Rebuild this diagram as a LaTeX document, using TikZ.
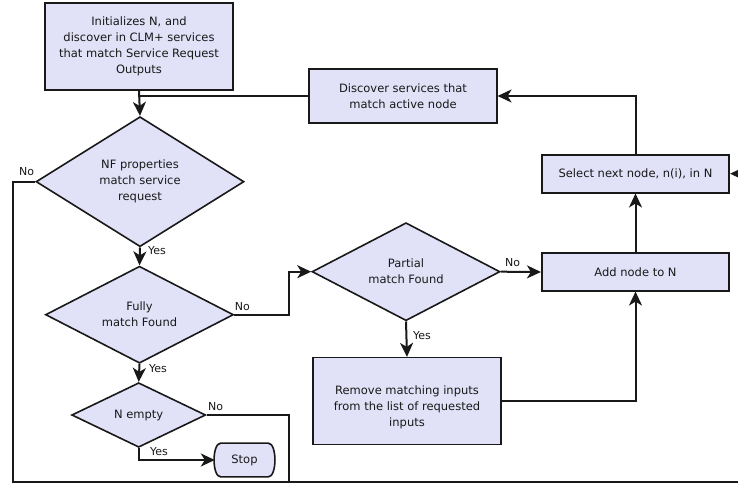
\documentclass[tikz,border=0pt]{standalone}
\usepackage{fontspec}
\setmainfont{DejaVu Sans}
\usetikzlibrary{shapes.geometric,arrows.meta,backgrounds}
\definecolor{lav}{RGB}{225,225,247}
\definecolor{ink}{RGB}{25,25,25}
\begin{document}
\begin{tikzpicture}[x=1pt,y=-1pt,
  boxline/.style={draw=ink,line width=1.6pt},
  box/.style={boxline,fill=lav,rectangle,inner sep=0pt,align=center,
    font=\fontsize{11.5}{16}\selectfont,text=ink},
  dec/.style={boxline,fill=lav,diamond,inner sep=0pt,shape aspect=2,align=center,
    font=\fontsize{11.5}{16}\selectfont,text=ink},
  txt/.style={inner sep=0pt,align=center,font=\fontsize{11.5}{16}\selectfont,text=ink},
  conn/.style={draw=ink,line width=2pt},
  arr/.style={conn,-{Stealth[length=14pt,width=13pt,inset=4pt]}},
  lbl/.style={inner sep=0pt,font=\fontsize{11}{13}\selectfont,text=ink}]
\clip (0,0) rectangle (738,484);
\useasboundingbox (0,0) rectangle (738,484);

% nodes
\node[box,minimum width=188,minimum height=87] (init) at (139,46.5)
  {Initializes N, and\\discover in CLM+ services\\that match Service Request\\Outputs};
\node[box,minimum width=187.5,minimum height=54] (discover) at (403,96)
  {Discover services that\\match active node};
\node[box,minimum width=187.5,minimum height=38] (select) at (635.5,173.7)
  {Select next node, n(i), in N};
\node[box,minimum width=187.5,minimum height=37.5] (add) at (635.5,272)
  {Add node to N};
\node[dec,shape aspect=1.6,minimum width=208,minimum height=130] (nf) at (140,181.7)
  {NF properties\\match service\\request};
\node[dec,minimum width=188,minimum height=97] (fully) at (139.5,314.7)
  {Fully\\match Found};
\node[dec,minimum width=188,minimum height=98] (partial) at (406,271.7)
  {Partial\\match Found};
\node[box,minimum width=187.7,minimum height=86.7] (remove) at (407,401) {};
\node[txt] (removetxt) at (407,407.5)
  {Remove matching inputs\\from the list of requested\\inputs};
\node[dec,minimum width=134,minimum height=64.6] (nempty) at (138.7,415)
  {N empty};
\node[txt,minimum width=59,minimum height=33.4] (stop) at (244.5,460) {Stop};
\begin{scope}[on background layer]
\draw[boxline,fill=lav]
  ([xshift=6]stop.north west) -- ([xshift=-6]stop.north east)
  .. controls ([xshift=3]stop.north east) and ([xshift=3]stop.south east) .. ([xshift=-6]stop.south east)
  -- ([xshift=6]stop.south west)
  .. controls ([xshift=-3]stop.south west) and ([xshift=-3]stop.north west) .. cycle;
\end{scope}

% helper coordinates
\coordinate (jl) at (13,181.7);
\coordinate (jbl) at (13,482);
\coordinate (jbr) at (745,482);
\coordinate (k1) at (288.7,314.7);
\coordinate (k2) at (289,482);

% connectors
\draw[arr] (init.south) -- (nf.north);
\draw[conn] (discover.west) -- (discover.west -| init.south);
\draw[arr] (select.north) |- (discover.east);
\draw[arr] (add.north) -- (select.south);
\draw[arr] (partial.east) -- (add.west);
\draw[arr] (partial.south) -- (remove.north);
\draw[arr] (remove.east) -| (add.south);
\draw[arr] (nf.south) -- (fully.north);
\draw[arr] (fully.east) -- (k1) |- (partial.west);
\draw[arr] (fully.south) -- (nempty.north);
\draw[conn] (nempty.east) -| (k2);
\draw[arr] (nempty.south) |- (stop.west);
\draw[arr] (nf.west) -- (jl) -- (jbl) -- (jbr) |- (select.east);

% labels
\node[lbl] (lno1) at (26.7,171.7) {No};
\node[lbl] (lyes1) at (157,251) {Yes};
\node[lbl] (lno2) at (242.3,306.2) {No};
\node[lbl] (lyes2) at (158,369) {Yes};
\node[lbl] (lno3) at (215.7,406.5) {No};
\node[lbl] (lyes3) at (159,451.7) {Yes};
\node[lbl] (lno4) at (512.7,262.3) {No};
\node[lbl] (lyes4) at (422,336) {Yes};
\end{tikzpicture}
\end{document}
